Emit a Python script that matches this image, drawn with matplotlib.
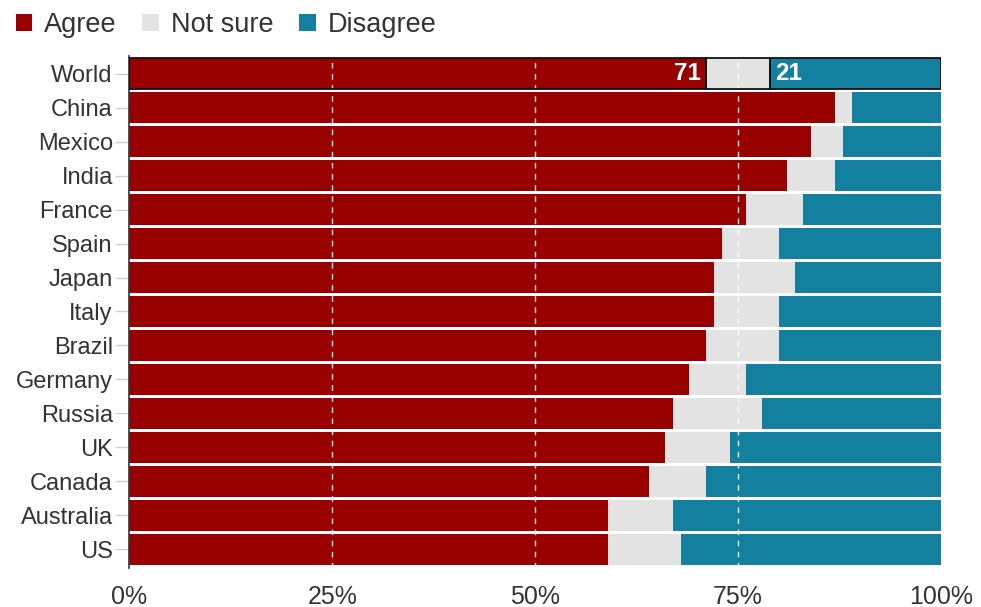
import matplotlib
matplotlib.use("Agg")
import matplotlib.pyplot as plt
from matplotlib.patches import Patch
import numpy as np

plt.rcParams['font.family'] = ['Liberation Sans', 'DejaVu Sans']

countries = ["World", "China", "Mexico", "India", "France", "Spain", "Japan", "Italy",
             "Brazil", "Germany", "Russia", "UK", "Canada", "Australia", "US"]
agree = [71, 87, 84, 81, 76, 73, 72, 72, 71, 69, 67, 66, 64, 59, 59]
not_sure = [8, 2, 4, 6, 7, 7, 10, 8, 9, 7, 11, 8, 7, 8, 9]
disagree = [21, 11, 12, 13, 17, 20, 18, 20, 20, 24, 22, 26, 29, 33, 32]
series_names = ["Agree", "Not sure", "Disagree"]
colors = ["#990000", "#e3e3e3", "#13809f"]
xticks = [0, 25, 50, 75, 100]
xticklabels = ["0%", "25%", "50%", "75%", "100%"]

fig = plt.figure(figsize=(9.81, 6.07), dpi=100)
ax = fig.add_axes([0.132, 0.0643, 0.827, 0.8434])

y = np.arange(len(countries))
h = 0.92
left = np.zeros(len(countries))
for vals, c in zip([agree, not_sure, disagree], colors):
    vals = np.array(vals, dtype=float)
    ax.barh(y, vals, left=left, height=h, color=c, edgecolor="none", zorder=2)
    left += vals

# World outline
wl = 0
for vals in [agree, not_sure, disagree]:
    ax.barh(y[0], vals[0], left=wl, height=h, facecolor="none", edgecolor="#111111",
            linewidth=1.3, zorder=4)
    wl += vals[0]

# labels in World bar
ax.text(agree[0] - 0.6, 0, str(agree[0]), color="white", fontweight="bold",
        fontsize=17.5, ha="right", va="center", zorder=5)
ax.text(agree[0] + not_sure[0] + 0.6, 0, str(disagree[0]), color="white", fontweight="bold",
        fontsize=17.5, ha="left", va="center", zorder=5)

for xv in [25, 50, 75]:
    ax.axvline(xv, color="white", linestyle=(0, (4, 4)), linewidth=1.0, zorder=3, alpha=0.9)

ax.set_xlim(0, 100)
ax.set_ylim(14.55, -0.52)
ax.set_yticks(y)
ax.set_yticklabels(countries, fontsize=17, color="#333333")
ax.set_xticks(xticks)
ax.set_xticklabels(xticklabels, fontsize=18, color="#333333")
ax.tick_params(axis="x", length=0, pad=12)
ax.tick_params(axis="y", length=10, color="#d0d0d0", width=1, pad=2)
for s in ["top", "right", "bottom"]:
    ax.spines[s].set_visible(False)
ax.spines["left"].set_color("#333333")
ax.spines["left"].set_linewidth(1.2)

handles = [Patch(facecolor=c, edgecolor="none") for c in colors]
fig.legend(handles, series_names, loc="upper left", bbox_to_anchor=(0.016, 0.98),
           ncol=3, frameon=False, fontsize=19.5, handlelength=0.6, handleheight=0.6,
           handletextpad=0.45, columnspacing=0.95, borderpad=0, borderaxespad=0,
           labelcolor="#333333")

fig.savefig("out.png", dpi=100, facecolor="white")
